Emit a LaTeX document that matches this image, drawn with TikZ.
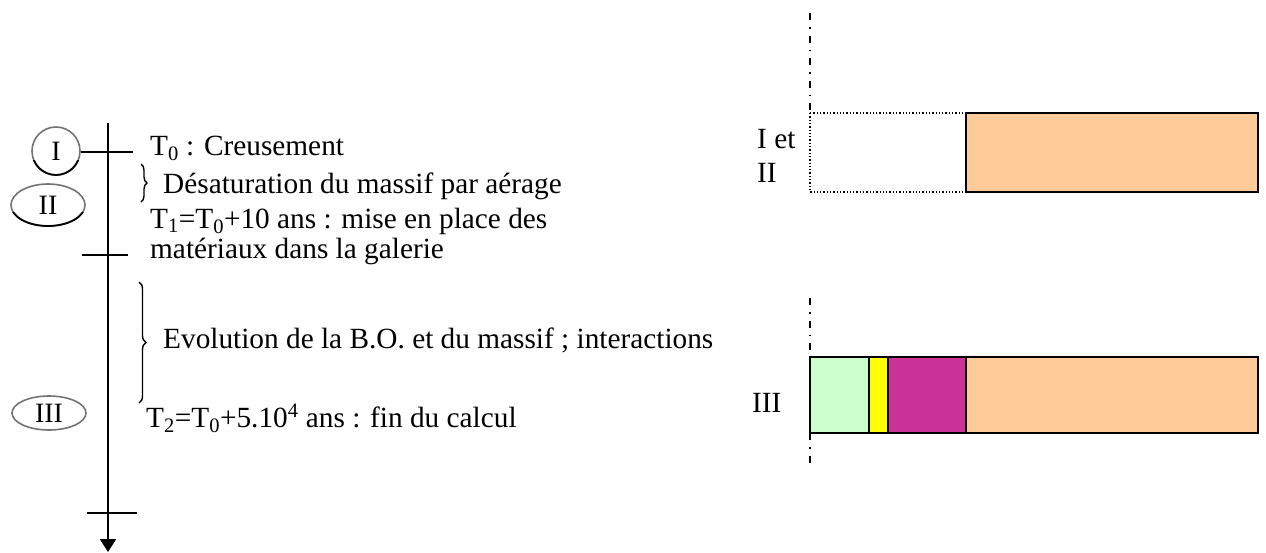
\documentclass[tikz,border=0pt]{standalone}
\usepackage{fontspec}
\setmainfont{Liberation Serif}
\usetikzlibrary{shapes.geometric,decorations.pathreplacing,arrows.meta}
\definecolor{peach}{HTML}{FFCC99}
\definecolor{mint}{HTML}{CCFFCC}
\definecolor{yel}{HTML}{FFFF00}
\definecolor{mag}{HTML}{CC3399}
\begin{document}
\begin{tikzpicture}[x=1pt,y=-1pt,
  txt/.style={anchor=base west,inner sep=0pt,font=\fontsize{29.3}{34}\selectfont},
  ell/.style={ellipse,draw=black!55,line width=1.6pt,inner sep=0pt,font=\fontsize{28}{34}\selectfont},
  axisline/.style={line width=2.2pt},
  brc/.style={decorate,decoration={brace,amplitude=#1},line width=1.4pt},
  dashdot/.style={line width=2pt,dash pattern=on 7pt off 7pt on 1.5pt off 7pt},
  box/.style={draw,line width=2.2pt}]
\useasboundingbox (0,0) rectangle (1266,552);

% ---- timeline ----
\coordinate (top) at (108,123);
\coordinate (bot) at (108,552);
\draw[axisline,-{Triangle[length=13pt,width=16pt]}] (top) -- (bot);

\node[ell,minimum width=48pt,minimum height=48pt] (nI) at (56,151) {I};
\node[ell,minimum width=74pt,minimum height=42pt] (nII) at (48,205) {II};
\node[ell,minimum width=74pt,minimum height=34pt] (nIII) at (49,413) {III};
% darker lower rims
\begin{scope}
  \clip (0,160) rectangle (100,185);
  \draw[line width=1.8pt] (56,151) ellipse [x radius=24, y radius=24];
\end{scope}
\begin{scope}
  \clip (0,212) rectangle (100,235);
  \draw[line width=1.8pt] (48,205) ellipse [x radius=37, y radius=21];
\end{scope}

\coordinate (t1r) at (133,152);
\draw[axisline] (nI.east |- t1r) -- (t1r);
\coordinate (t2l) at (82,255);  \coordinate (t2r) at (128,255);
\draw[axisline] (t2l) -- (t2r);
\coordinate (t3l) at (87,513);  \coordinate (t3r) at (137,513);
\draw[axisline] (t3l) -- (t3r);

% ---- braces ----
\coordinate (b1a) at (141,164); \coordinate (b1b) at (141,202);
\draw[brc=6pt] (b1a) -- (b1b);
\coordinate (b2a) at (139,282); \coordinate (b2b) at (139,403);
\draw[brc=7pt] (b2a) -- (b2b);

% ---- texts ----
\node[txt] (x0) at (150,155) {T\textsubscript{0} : Creusement};
\node[txt] (x1) at (163,193) {Désaturation du massif par aérage};
\node[txt] (x2) at (150,228) {T\textsubscript{1}=T\textsubscript{0}+10 ans : mise en place des};
\node[txt] (x3) at (150,258) {matériaux dans la galerie};
\node[txt] (x4) at (163,348) {Evolution de la B.O. et du massif ; interactions};
\node[txt] (x5) at (146,427) {T\textsubscript{2}=T\textsubscript{0}+5.10\textsuperscript{4} ans : fin du calcul};

% ---- right: states I et II ----
\coordinate (d1a) at (810,13); \coordinate (d1b) at (810,113);
\draw[dashdot] (d1a) -- (d1b);
\draw[dotted,line width=1.3pt] (810,113) rectangle (966,192);
\draw[box,fill=peach] (966,113) rectangle (1258,192);
\node[txt] (l1) at (757,148) {I et};
\node[txt] (l2) at (757,182) {II};

% ---- right: state III ----
\coordinate (d2a) at (810,298); \coordinate (d2b) at (810,467);
\draw[box,fill=mint] (810,357) rectangle (869,433);
\draw[box,fill=yel] (869,357) rectangle (888,433);
\draw[box,fill=mag] (888,357) rectangle (966,433);
\draw[box,fill=peach] (966,357) rectangle (1258,433);
\draw[dashdot] (d2a) -- (d2b);
\node[txt] (l3) at (752,412) {III};
\end{tikzpicture}
\end{document}
